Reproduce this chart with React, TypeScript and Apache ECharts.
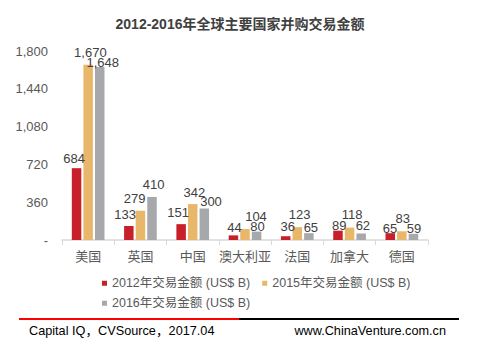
import React, { useEffect, useRef } from "react";
import * as echarts from "echarts";

const categories = ["美国", "英国", "中国", "澳大利亚", "法国", "加拿大", "德国"];
const values2012 = [684, 133, 151, 44, 36, 89, 65];
const values2015 = [1670, 279, 342, 104, 123, 118, 83];
const values2016 = [1648, 410, 300, 80, 65, 62, 59];
const seriesNames = ["2012年交易金额 (US$ B)", "2015年交易金额 (US$ B)", "2016年交易金额 (US$ B)"];
const colors = ["#C8202A", "#E8B76A", "#A7A8AC"];
const titleText = "2012-2016年全球主要国家并购交易金额";
const sourceText = "Capital IQ，CVSource，2017.04";
const siteText = "www.ChinaVenture.com.cn";

// label nudges (pixels) so the value labels sit as in the reference: [dx, heightAboveBar]
const labelNudge2012 = [[-2.5, 11], [-3.7, 12.7], [-3, 13.6], [1, 9], [2, 11.7], [1.3, 6.7], [-0.3, 6]];
const labelNudge2015 = [[2.2, 14], [-5.8, 13.4], [1.7, 13.3], [11, 14.3], [2.3, 14.3], [2.6, 15], [1, 14.6]];
const labelNudge2016 = [[3, 5.6], [1.7, 14.3], [6.7, 9], [1, 6.6], [2, 7.6], [1.7, 9.3], [0.6, 6.7]];

const FONT = "'Liberation Sans', Arial, 'Noto Sans CJK SC', sans-serif";

const fmt = (v: number) => v.toLocaleString("en-US");

export default function App() {
  const ref = useRef<HTMLDivElement>(null);
  useEffect(() => {
    if (!ref.current) return;
    const chart = echarts.init(ref.current, null, { renderer: "svg" });
    const allData = [values2012, values2015, values2016];
    const allNudge = [labelNudge2012, labelNudge2015, labelNudge2016];
    const legendCommon = {
      itemWidth: 5,
      itemHeight: 5,
      itemGap: 12,
      padding: 0,
      icon: "rect",
      textStyle: { fontSize: 12.5, color: "#595959", fontFamily: FONT },
    };
    chart.setOption({
      animation: false,
      textStyle: { fontFamily: FONT },
      title: {
        text: titleText,
        left: "center",
        top: 12,
        textStyle: { fontSize: 14, fontWeight: "bold", color: "#404040", fontFamily: FONT },
      },
      legend: [
        { ...legendCommon, left: 102, top: 277, data: [seriesNames[0], seriesNames[1]] },
        { ...legendCommon, left: 102, top: 297, data: [seriesNames[2]] },
      ],
      grid: { left: 62, right: 52, top: 51, bottom: 112, containLabel: false },
      xAxis: {
        type: "category",
        data: categories,
        axisLine: { lineStyle: { color: "#D9D9D9", width: 1.5 } },
        axisTick: { show: true, length: 5, lineStyle: { color: "#D9D9D9" } },
        axisLabel: { interval: 0, fontSize: 13, color: "#595959", margin: 10, fontFamily: FONT },
      },
      yAxis: {
        type: "value",
        min: 0,
        max: 1800,
        interval: 360,
        splitLine: { show: false },
        axisLine: { show: false },
        axisTick: { show: false },
        axisLabel: {
          fontSize: 13,
          color: "#595959",
          margin: 14,
          fontFamily: FONT,
          formatter: (v: number) => (v === 0 ? "-" : fmt(v)),
        },
      },
      series: seriesNames.map((name, i) => ({
        name,
        type: "bar",
        data: allData[i].map((v, j) => ({
          value: v,
          label: { offset: [allNudge[i][j][0], 8 - allNudge[i][j][1]] },
        })),
        barWidth: 9.5,
        barGap: "22%",
        itemStyle: { color: colors[i] },
        label: {
          show: true,
          position: "top",
          distance: 0,
          fontSize: 13,
          color: "#404040",
          fontFamily: FONT,
          formatter: (p: any) => fmt(p.value),
        },
      })),
      graphic: [
        { type: "rect", shape: { x: 19, y: 318, width: 220, height: 2 }, style: { fill: "#FF0000" } },
        { type: "rect", shape: { x: 239, y: 318, width: 220, height: 2 }, style: { fill: "#000000" } },
        {
          type: "text",
          x: 29,
          y: 331,
          style: { text: sourceText, fontSize: 12.7, fill: "#000000", fontFamily: FONT, verticalAlign: "middle" },
        },
        {
          type: "text",
          x: 446,
          y: 331,
          style: { text: siteText, fontSize: 12.7, fill: "#000000", fontFamily: FONT, align: "right", verticalAlign: "middle" },
        },
      ],
    });
    return () => chart.dispose();
  }, []);
  return <div ref={ref} style={{ width: 480, height: 352, position: "absolute", left: 0, top: 0, background: "#fff" }} />;
}
